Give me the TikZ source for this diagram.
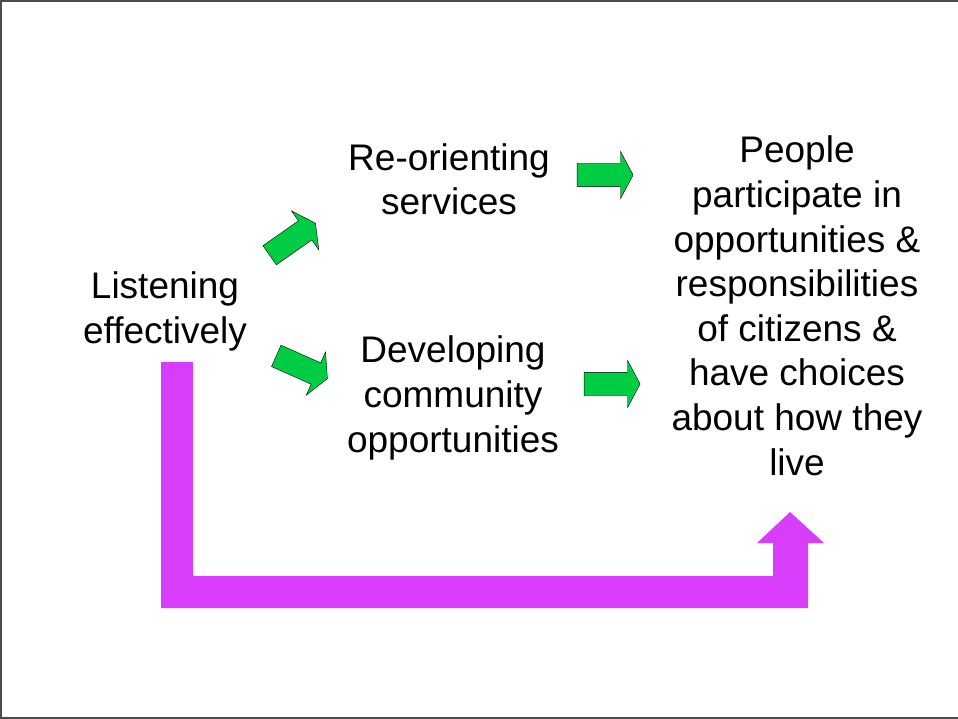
\documentclass[tikz,border=0pt]{standalone}
\usepackage{fontspec}
\setmainfont{Liberation Sans}
\usetikzlibrary{shapes.arrows}

\definecolor{arrowgreen}{RGB}{0,204,68}
\definecolor{flowpink}{RGB}{216,61,252}

\begin{document}
\begin{tikzpicture}[x=1pt,y=-1pt,
  textblock/.style={align=center, anchor=base, font=\fontsize{37}{44.6}\selectfont},
  greenarrow/.style={single arrow, draw=black, fill=arrowgreen, thin, inner sep=0pt,
    inner ysep=11.5pt, minimum height=56pt, single arrow head extend=12pt,
    single arrow tip angle=124}]

\useasboundingbox (0,0) rectangle (958,719);
\draw[gray!60!black, line width=1.5pt] (958,1) -- (1,1) -- (1,718) -- (958,718);

% base anchor sits on the last line
\node[textblock] at (165,343) (listen){Listening\\effectively};
\node[textblock] at (449,215) (reorient){Re-orienting\\services};
\node[textblock] at (453,452) (develop){Developing\\community\\opportunities};
\node[textblock] at (797,475) (people){People\\participate in\\opportunities \&\\responsibilities\\of citizens \&\\have choices\\about how they\\live};

\node[greenarrow, rotate=35] at (290,241) (upArrow){};
\node[greenarrow, rotate=-24] at (299,366) (downArrow){};
\node[greenarrow] at (602,175) (topArrow){};
\node[greenarrow] at (609,384) (bottomArrow){};

\fill[flowpink] (161,362) -- (193,362) -- (193,576) -- (773,576) -- (773,543) -- (757,543)
  -- (790,512) -- (824,543) -- (808,543) -- (808,608) -- (161,608) -- cycle;

\end{tikzpicture}
\end{document}
